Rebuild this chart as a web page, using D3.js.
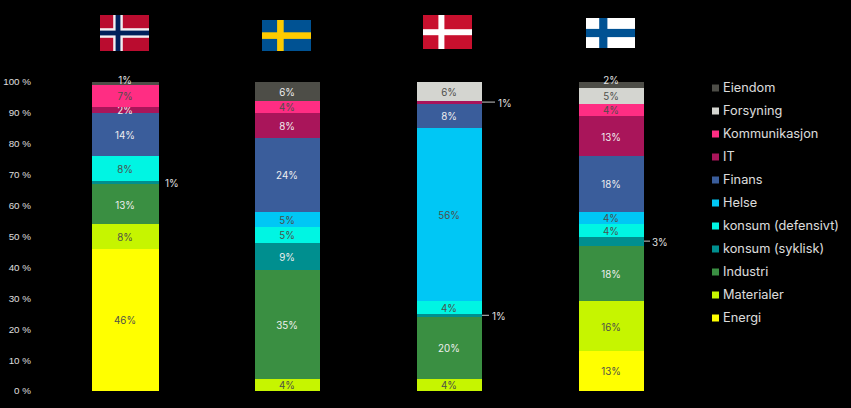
<!DOCTYPE html>
<html lang="no">
<head>
<meta charset="utf-8">
<title>Sektorfordeling i nordiske aksjeindekser</title>
<script src="https://cdn.jsdelivr.net/npm/d3@7/dist/d3.min.js"></script>
<style>
  html, body { margin: 0; background: #000; }
  svg { display: block; font-family: Inter, "Liberation Sans", Arial, sans-serif; }
  svg text { opacity: 0.98; }
  .axis text { fill: #e0e0e0; font-size: 9.8px; }
  .legend text { fill: #e0e0e0; font-size: 12.75px; }
  .value { font-size: 9.8px; text-anchor: middle; dominant-baseline: central; }
  .bar rect { shape-rendering: crispEdges; }
</style>
</head>
<body>
<div id="chart"></div>
<script>
// Sektorer, nederst i stolpen først
const sectors = ["Energi", "Materialer", "Industri", "konsum (syklisk)", "konsum (defensivt)",
                 "Helse", "Finans", "IT", "Kommunikasjon", "Forsyning", "Eiendom"];
const sectorColors = ["#ffff00", "#c6f500", "#3a8f42", "#008f8f", "#00f5e3",
                      "#00c7f5", "#3a5d9b", "#a9155a", "#ff2d83", "#d4d5d0", "#4d4d47"];
const lightText = ["Industri", "konsum (syklisk)", "Finans", "IT", "Eiendom"];

const countries = ["Norge", "Sverige", "Danmark", "Finland"];
const norge   = [46, 8, 13, 1, 8, 0, 14, 2, 7, 0, 1];
const sverige = [0, 4, 35, 9, 5, 5, 24, 8, 4, 0, 6];
const danmark = [0, 4, 20, 1, 4, 56, 8, 1, 0, 6, 0];
const finland = [13, 16, 18, 3, 4, 4, 18, 13, 4, 5, 2];
const seriesByCountry = [norge, sverige, danmark, finland];

const yTicks = [0, 10, 20, 30, 40, 50, 60, 70, 80, 90, 100];

const width = 851, height = 408;
const svg = d3.select("#chart").append("svg").attr("width", width).attr("height", height);

const y = d3.scaleLinear().domain([0, 100]).range([391, 82]);
const x = d3.scaleBand().domain(countries).range([93, 644])
  .paddingInner(97 / 162).paddingOuter(0);
const color = d3.scaleOrdinal(sectors, sectorColors);

// Prosentakse uten linjer
svg.append("g")
  .attr("class", "axis")
  .attr("transform", "translate(31,-0.2)")
  .call(d3.axisLeft(y).tickValues(yTicks).tickFormat(d => `${d} %`).tickSize(0).tickPadding(0))
  .call(g => g.select(".domain").remove());

// Tynne segmenter får etiketten utenfor stolpen
const outsideRight = { "Norge|konsum (syklisk)": { gap: 6, leader: 0 },
                       "Danmark|IT": { gap: 16, leader: 13 },
                       "Danmark|konsum (syklisk)": { gap: 10, leader: 7 },
                       "Finland|konsum (syklisk)": { gap: 8, leader: 6 } };
const aboveBar = ["Norge|Eiendom", "Finland|Eiendom"];
const labelDrop = 1;

// Stolpene, stablet med d3.stack
countries.forEach((country, i) => {
  const row = Object.fromEntries(sectors.map((s, k) => [s, seriesByCountry[i][k]]));
  const stacked = d3.stack().keys(sectors)([row]);
  const wider = country === "Norge" ? 1 : 0;
  const g = svg.append("g").attr("class", "bar");

  stacked.filter(s => s[0][1] > s[0][0]).forEach(s => {
    const [y0, y1] = s[0];
    const key = `${country}|${s.key}`;
    const left = x(country), right = left + x.bandwidth();
    g.append("rect")
      .attr("x", left - wider).attr("width", x.bandwidth() + 2 * wider)
      .attr("y", y(y1)).attr("height", y(y0) - y(y1))
      .attr("fill", color(s.key));

    const mid = y((y0 + y1) / 2);
    const label = `${y1 - y0}%`;
    if (outsideRight[key]) {
      const o = outsideRight[key];
      if (o.leader) {
        g.append("line").attr("x1", right).attr("x2", right + o.leader)
          .attr("y1", mid).attr("y2", mid).attr("stroke", "#c8c8c8").attr("stroke-width", 1);
      }
      g.append("text").attr("class", "value").attr("x", right + wider + o.gap).attr("y", mid + labelDrop)
        .style("text-anchor", "start").attr("fill", "#e6e6e6").text(label);
    } else if (aboveBar.includes(key)) {
      g.append("text").attr("class", "value").attr("x", left + x.bandwidth() / 2 - 0.5).attr("y", y(100) - 2.5 + labelDrop)
        .attr("fill", "#e6e6e6").text(label);
    } else {
      g.append("text").attr("class", "value").attr("x", left + x.bandwidth() / 2 - 0.5).attr("y", mid + labelDrop)
        .attr("fill", lightText.includes(s.key) ? "#f2f2f2" : "#4d4f4a").text(label);
    }
  });
});

// Tegnforklaring, øverste sektor først
const legendY = d3.scalePoint().domain(sectors.slice().reverse()).range([88, 318]);
const legend = svg.append("g").attr("class", "legend");
sectors.forEach(s => {
  legend.append("rect").attr("x", 712).attr("y", legendY(s) - 3.5).attr("width", 7).attr("height", 7)
    .attr("fill", color(s));
  legend.append("text").attr("x", 723).attr("y", legendY(s) - 1).attr("dominant-baseline", "central").text(s);
});

// Flagg over hver stolpe
function nordicCross(box, ground, crossW, crossC, innerW, innerC) {
  const f = svg.append("g").attr("class", "flag");
  f.append("rect").attr("x", box.x).attr("y", box.y).attr("width", 49).attr("height", box.h).attr("fill", ground);
  const bars = (w, c) => {
    f.append("rect").attr("x", box.cx - w / 2).attr("y", box.y).attr("width", w).attr("height", box.h).attr("fill", c);
    f.append("rect").attr("x", box.x).attr("y", box.cy - w / 2).attr("width", 49).attr("height", w).attr("fill", c);
  };
  bars(crossW, crossC);
  if (innerW) bars(innerW, innerC);
}
nordicCross({ x: 100, y: 15, h: 36, cx: 118, cy: 33 }, "#ba0c2f", 9.6, "#f2eef2", 4.8, "#00205b");
nordicCross({ x: 262, y: 20, h: 31, cx: 280.4, cy: 35.6 }, "#005293", 6.6, "#fecb00");
nordicCross({ x: 423, y: 15, h: 34, cx: 441.4, cy: 32.2 }, "#c8102e", 6, "#ffffff");
nordicCross({ x: 586, y: 18, h: 30, cx: 603.3, cy: 33 }, "#ffffff", 8.2, "#005293");
</script>
</body>
</html>
